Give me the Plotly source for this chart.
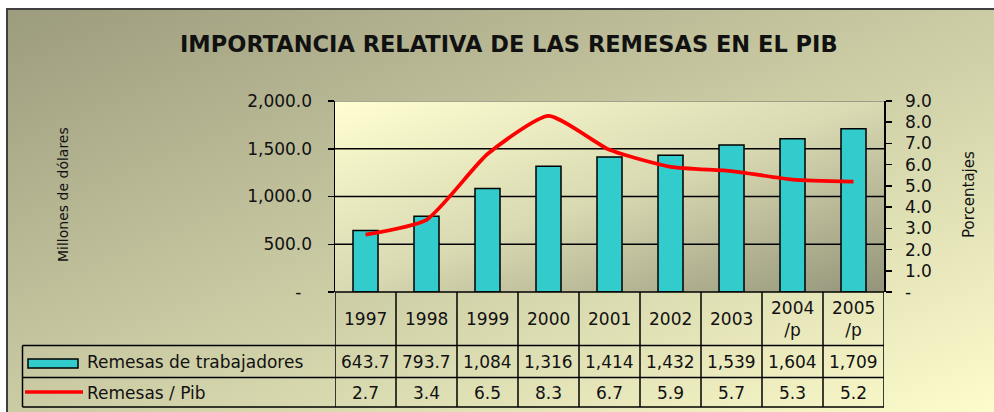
import base64
import plotly.graph_objects as go

# ---------------- data ----------------
years = ["1997", "1998", "1999", "2000", "2001", "2002", "2003", "2004", "2005"]
year_labels = ["1997", "1998", "1999", "2000", "2001", "2002", "2003", "2004<br>/p", "2005<br>/p"]
remesas = [643.7, 793.7, 1084, 1316, 1414, 1432, 1539, 1604, 1709]
remesas_text = ["643.7", "793.7", "1,084", "1,316", "1,414", "1,432", "1,539", "1,604", "1,709"]
pct_pib = [2.7, 3.4, 6.5, 8.3, 6.7, 5.9, 5.7, 5.3, 5.2]
pct_text = ["2.7", "3.4", "6.5", "8.3", "6.7", "5.9", "5.7", "5.3", "5.2"]
left_ticks = [0, 500, 1000, 1500, 2000]
left_tick_text = ["-\u00a0\u00a0", "500.0", "1,000.0", "1,500.0", "2,000.0"]
right_ticks = [0, 1, 2, 3, 4, 5, 6, 7, 8, 9]
right_tick_text = ["-", "1.0", "2.0", "3.0", "4.0", "5.0", "6.0", "7.0", "8.0", "9.0"]
title = "IMPORTANCIA RELATIVA DE LAS REMESAS EN EL PIB"
series_names = ["Remesas de trabajadores", "Remesas / Pib"]

# ---------------- geometry (page pixels) ----------------
W, H = 994, 412
L, R, T, B = 335, 884, 101, 292  # plot area in px


def px(x):
    return (x - L) / (R - L)


def py(y):
    return (B - y) / (B - T)


def grad_svg(stops, x1=0, y1=0, x2=1, y2=1):
    st = "".join(f'<stop offset="{o}" stop-color="{c}"/>' for o, c in stops)
    svg = ('<svg xmlns="http://www.w3.org/2000/svg" width="200" height="200" '
           'viewBox="0 0 200 200" preserveAspectRatio="none"><defs>'
           f'<linearGradient id="g" x1="{x1}" y1="{y1}" x2="{x2}" y2="{y2}">{st}'
           '</linearGradient></defs><rect width="200" height="200" fill="url(#g)"/></svg>')
    return "data:image/svg+xml;base64," + base64.b64encode(svg.encode()).decode()


FONT = "DejaVu Sans"
idx = list(range(len(years)))

fig = go.Figure()
fig.add_trace(go.Bar(
    x=idx, y=remesas, name=series_names[0], width=0.41,
    marker=dict(color="#33CCCC", line=dict(color="black", width=1.5)),
    showlegend=False, hoverinfo="skip",
))
fig.add_trace(go.Scatter(
    x=idx, y=pct_pib, name=series_names[1], yaxis="y2", mode="lines",
    line=dict(color="#FF0000", width=3.8, shape="spline", smoothing=0.55),
    showlegend=False, hoverinfo="skip",
))

shapes = []
# outer frame
shapes.append(dict(type="rect", xref="paper", yref="paper", x0=px(7), x1=px(1010),
                   y0=py(9), y1=py(430), line=dict(color="#404040", width=2), layer="below"))
# gridlines
for v in left_ticks[1:-1]:
    shapes.append(dict(type="line", xref="paper", yref="y", x0=0, x1=1, y0=v, y1=v,
                       line=dict(color="black", width=1.5), layer="below"))
shapes.append(dict(type="line", xref="paper", yref="y", x0=0, x1=1, y0=2000, y1=2000,
                   line=dict(color="#8a8a7a", width=1.5), layer="below"))

# table
tline = dict(color="black", width=1.5)
rows_y = [B, 345.5, 377.5, 407]
shapes.append(dict(type="line", xref="paper", yref="paper", x0=0, x1=1, y0=py(B), y1=py(B), line=tline))
for yy in rows_y[1:]:
    shapes.append(dict(type="line", xref="paper", yref="paper", x0=px(22.5), x1=1,
                       y0=py(yy), y1=py(yy), line=tline))
for k in range(len(years) + 1):
    shapes.append(dict(type="line", xref="x", yref="paper", x0=k - 0.5, x1=k - 0.5,
                       y0=py(B), y1=py(rows_y[-1]), line=tline))
shapes.append(dict(type="line", xref="paper", yref="paper", x0=px(22.5), x1=px(22.5),
                   y0=py(rows_y[1]), y1=py(rows_y[-1]), line=tline))
# legend keys
shapes.append(dict(type="rect", xref="paper", yref="paper", x0=px(28), x1=px(78),
                   y0=py(368), y1=py(359), fillcolor="#33CCCC", line=dict(color="black", width=1.5)))
shapes.append(dict(type="line", xref="paper", yref="paper", x0=px(25), x1=px(83),
                   y0=py(392), y1=py(392), line=dict(color="#FF0000", width=3.5)))

ann = []
ann.append(dict(text=f"<b>{title}</b>", xref="paper", yref="paper", x=px(509), y=py(44),
                showarrow=False, xanchor="center", yanchor="middle",
                font=dict(family=FONT, size=22.5, color="#111")))
ann.append(dict(text="Millones de dólares", xref="paper", yref="paper", x=px(63), y=py(195),
                textangle=-90, showarrow=False, xanchor="center", yanchor="middle",
                font=dict(family=FONT, size=14, color="#111")))
ann.append(dict(text="Porcentajes", xref="paper", yref="paper", x=px(969), y=py(195),
                textangle=-90, showarrow=False, xanchor="center", yanchor="middle",
                font=dict(family=FONT, size=15, color="#111")))
tf = dict(family=FONT, size=17, color="#111")
for i in idx:
    ann.append(dict(text=year_labels[i], xref="x", yref="paper", x=i, y=py(318.5),
                    showarrow=False, xanchor="center", yanchor="middle", font=tf))
    ann.append(dict(text=remesas_text[i], xref="x", yref="paper", x=i, y=py(361.5),
                    showarrow=False, xanchor="center", yanchor="middle", font=tf))
    ann.append(dict(text=pct_text[i], xref="x", yref="paper", x=i, y=py(392.5),
                    showarrow=False, xanchor="center", yanchor="middle", font=tf))
ann.append(dict(text=series_names[0], xref="paper", yref="paper", x=px(85), y=py(362),
                showarrow=False, xanchor="left", yanchor="middle", font=tf))
ann.append(dict(text=series_names[1], xref="paper", yref="paper", x=px(85), y=py(393),
                showarrow=False, xanchor="left", yanchor="middle", font=tf))

images = [
    dict(source=grad_svg([(0, "#9C9C7E"), (0.5, "#CBCBA4"), (1, "#FCFCCC")]),
         xref="paper", yref="paper", x=px(7), y=py(9), sizex=px(W) - px(7),
         sizey=py(9) - py(H), xanchor="left", yanchor="top", sizing="stretch", layer="below"),
    dict(source=grad_svg([(0, "#FFFFD2"), (0.5, "#D9D9B2"), (1, "#94947A")]),
         xref="paper", yref="paper", x=0, y=1, sizex=1, sizey=1,
         xanchor="left", yanchor="top", sizing="stretch", layer="below"),
]

fig.update_layout(
    width=W, height=H,
    margin=dict(l=L, r=W - R, t=T, b=H - B),
    paper_bgcolor="white", plot_bgcolor="rgba(0,0,0,0)",
    shapes=shapes, annotations=ann, images=images,
    hovermode=False,
    xaxis=dict(range=[-0.5, len(years) - 0.5], showticklabels=False,
               showgrid=False, zeroline=False, showline=False, ticks=""),
    yaxis=dict(range=[0, 2000], tickvals=left_ticks, ticktext=left_tick_text,
               showgrid=False, zeroline=False, showline=True, linecolor="black", linewidth=1.5,
               ticks="outside", ticklen=6, tickcolor="black", tickwidth=1.5,
               ticklabelstandoff=12,
               tickfont=dict(family=FONT, size=17, color="#111")),
    yaxis2=dict(range=[0, 9], tickvals=right_ticks, ticktext=right_tick_text,
                overlaying="y", side="right", showgrid=False, zeroline=False,
                showline=True, linecolor="black", linewidth=1.5,
                ticks="outside", ticklen=6, tickcolor="black", tickwidth=1.5,
                ticklabelstandoff=10,
                tickfont=dict(family=FONT, size=17, color="#111")),
)

fig.write_html(
    "out.html",
    config={"displayModeBar": False, "staticPlot": True},
    post_script="document.body.style.margin='0';document.body.style.overflow='hidden';",
)
